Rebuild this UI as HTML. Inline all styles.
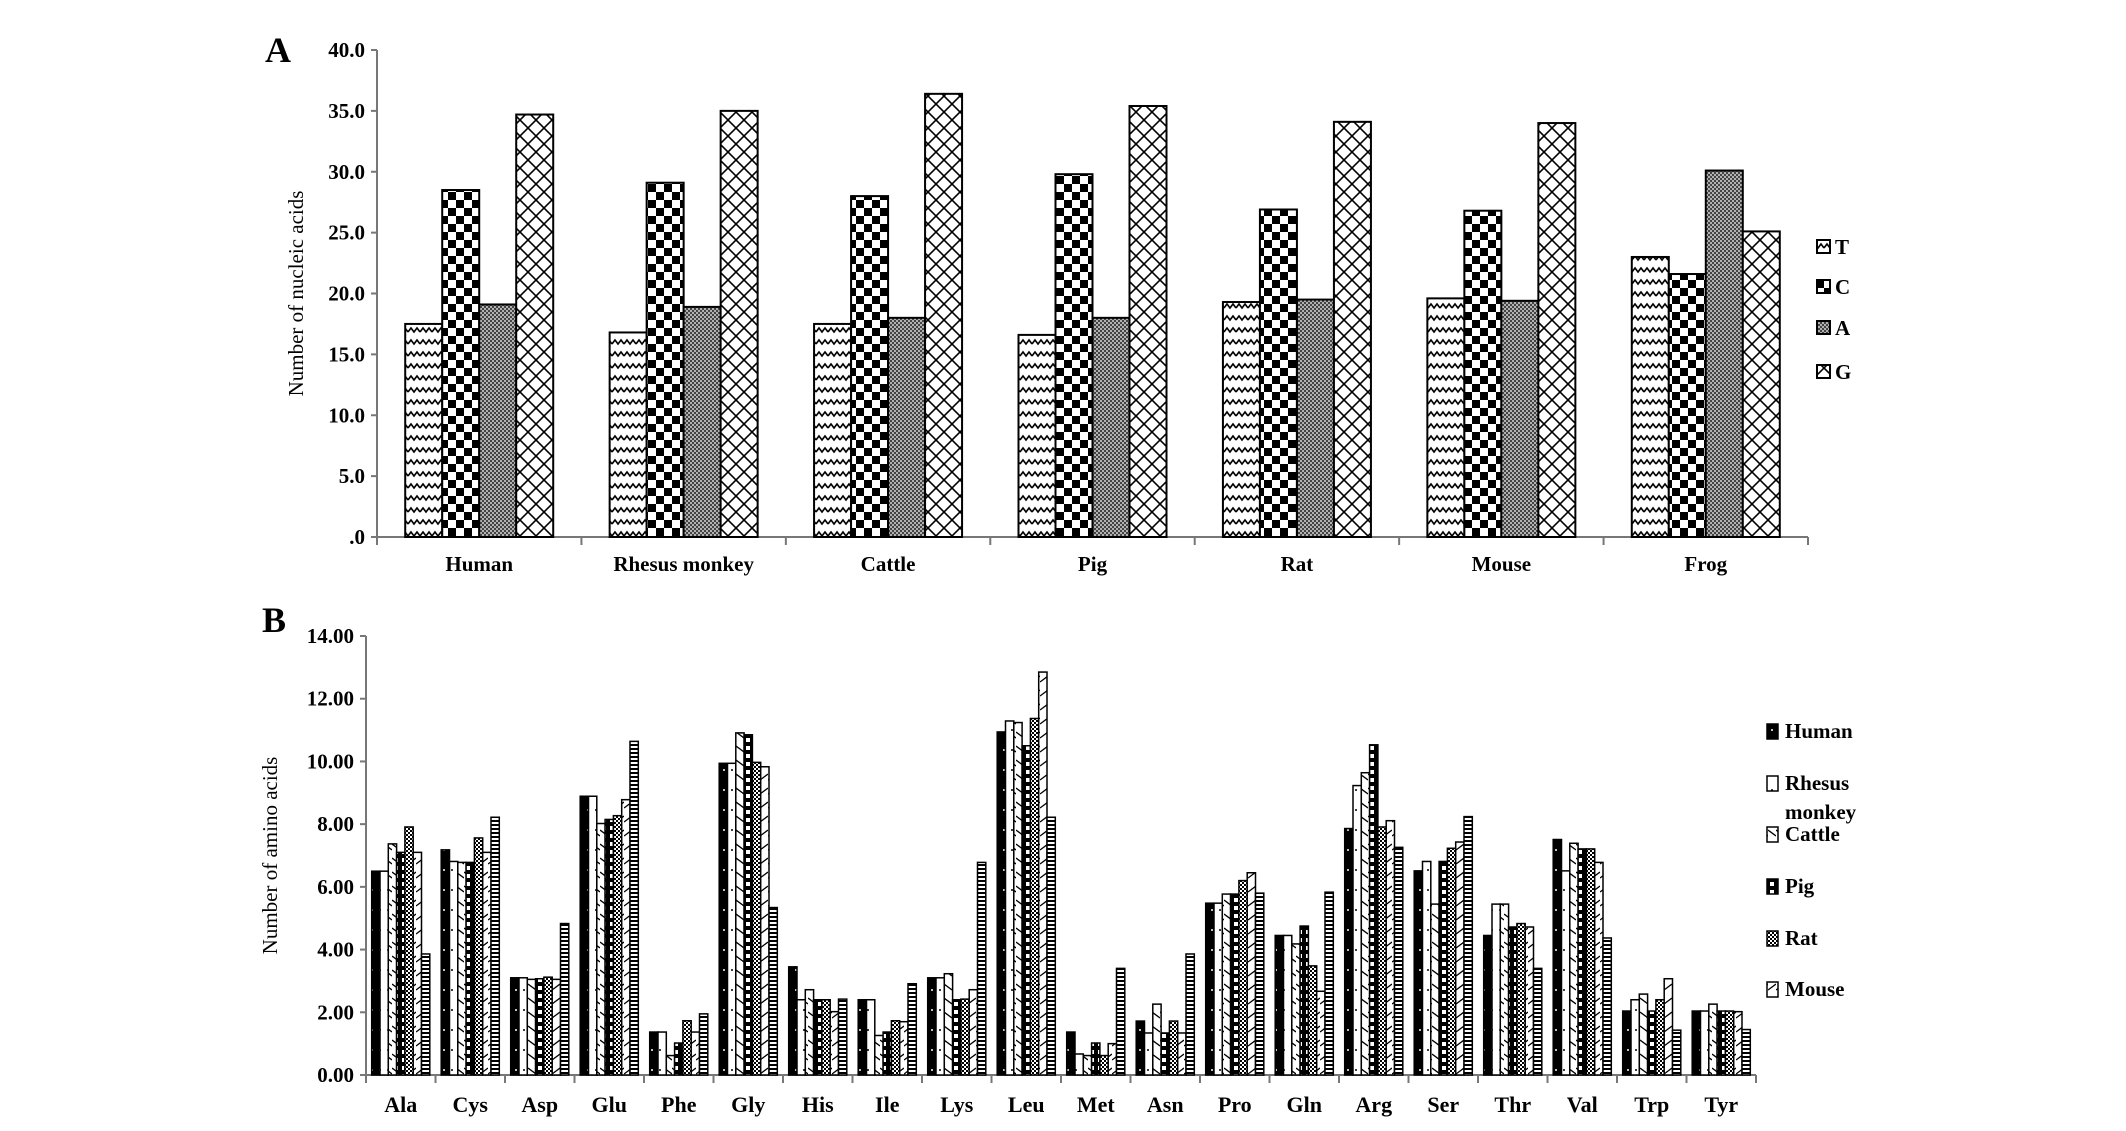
<!DOCTYPE html>
<html><head><meta charset="utf-8"><style>
html,body{margin:0;padding:0;background:#fff;}
svg{display:block;font-family:"Liberation Serif",serif;}
</style></head><body>
<svg id="chart" width="2126" height="1131" viewBox="0 0 2126 1131" xmlns="http://www.w3.org/2000/svg">
<defs>
<pattern id="pT" width="12" height="12" patternUnits="userSpaceOnUse"><rect width="12" height="12" fill="#fff"/><path d="M0 8 L3 4 L6 8 L9 4 L12 8" stroke="#000" stroke-width="1.6" fill="none"/></pattern>
<pattern id="pC" width="16" height="16" patternUnits="userSpaceOnUse"><rect width="16" height="16" fill="#fff"/><rect width="8" height="8" fill="#000"/><rect x="8" y="8" width="8" height="8" fill="#000"/></pattern>
<pattern id="pA" width="4" height="4" patternUnits="userSpaceOnUse"><rect width="4" height="4" fill="#444"/><circle cx="1" cy="1" r="0.9" fill="#fff"/><circle cx="3" cy="3" r="0.9" fill="#fff"/></pattern>
<pattern id="pG" width="16" height="16" patternUnits="userSpaceOnUse"><rect width="16" height="16" fill="#fff"/><path d="M0 0 L16 16 M16 0 L0 16" stroke="#000" stroke-width="1.6"/></pattern>
<pattern id="b0" width="8" height="20" patternUnits="userSpaceOnUse"><rect width="8" height="20" fill="#000"/><circle cx="4" cy="10" r="1" fill="#fff"/></pattern>
<pattern id="b1" width="8" height="20" patternUnits="userSpaceOnUse"><rect width="8" height="20" fill="#fff"/><circle cx="4" cy="10" r="1" fill="#000"/></pattern>
<pattern id="b2" width="8" height="14" patternUnits="userSpaceOnUse"><rect width="8" height="14" fill="#fff"/><path d="M0 4 L8 10" stroke="#000" stroke-width="1.3"/></pattern>
<pattern id="b3" width="8" height="8" patternUnits="userSpaceOnUse"><rect width="8" height="8" fill="#000"/><rect x="2" y="2" width="4" height="4" fill="#fff"/></pattern>
<pattern id="b4" width="4" height="4" patternUnits="userSpaceOnUse"><rect width="4" height="4" fill="#fff"/><rect width="2" height="2" fill="#000"/><rect x="2" y="2" width="2" height="2" fill="#000"/></pattern>
<pattern id="b5" width="8" height="14" patternUnits="userSpaceOnUse"><rect width="8" height="14" fill="#fff"/><path d="M0 10 L8 4" stroke="#000" stroke-width="1.3"/></pattern>
<pattern id="b6" width="8" height="4" patternUnits="userSpaceOnUse"><rect width="8" height="4" fill="#fff"/><rect width="8" height="2" fill="#000"/></pattern>
</defs>
<g id="gA"></g><g id="gB"></g>
</svg>
<script>
// Chart A data
const catsA = ["Human","Rhesus monkey","Cattle","Pig","Rat","Mouse","Frog"];
const seriesA = ["T","C","A","G"];
const valT = [17.5,16.8,17.5,16.6,19.3,19.6,23.0];
const valC = [28.5,29.1,28.0,29.8,26.9,26.8,21.6];
const valA = [19.1,18.9,18.0,18.0,19.5,19.4,30.1];
const valG = [34.7,35.0,36.4,35.4,34.1,34.0,25.1];
const ticksA = [0,5,10,15,20,25,30,35,40];
const tickLabelsA = [".0","5.0","10.0","15.0","20.0","25.0","30.0","35.0","40.0"];
// Chart B data
const catsB = ["Ala","Cys","Asp","Glu","Phe","Gly","His","Ile","Lys","Leu","Met","Asn","Pro","Gln","Arg","Ser","Thr","Val","Trp","Tyr"];
const seriesB = ["Human","Rhesus monkey","Cattle","Pig","Rat","Mouse","Frog"];
const bHuman = [6.5,7.18,3.1,8.89,1.37,9.94,3.45,2.4,3.1,10.94,1.37,1.72,5.48,4.45,7.86,6.51,4.45,7.51,2.04,2.04];
const bRhesus = [6.5,6.81,3.1,8.89,1.37,9.94,2.4,2.4,3.1,11.29,0.67,1.34,5.48,4.45,9.23,6.81,5.45,6.51,2.4,2.04];
const bCattle = [7.37,6.78,3.05,8.02,0.62,10.91,2.72,1.26,3.23,11.24,0.62,2.26,5.77,4.18,9.64,5.45,5.45,7.39,2.58,2.26];
const bPig = [7.1,6.78,3.07,8.15,1.02,10.85,2.4,1.37,2.4,10.5,1.02,1.34,5.77,4.75,10.53,6.81,4.72,7.21,2.04,2.04];
const bRat = [7.91,7.56,3.12,8.27,1.73,9.97,2.4,1.73,2.42,11.37,0.62,1.72,6.2,3.48,7.91,7.23,4.83,7.21,2.4,2.04];
const bMouse = [7.1,7.1,3.05,8.78,1.37,9.83,2.02,1.7,2.72,12.85,1.0,1.34,6.45,2.67,8.11,7.43,4.72,6.78,3.07,2.02];
const bFrog = [3.86,8.22,4.83,10.64,1.95,5.34,2.42,2.91,6.78,8.22,3.4,3.86,5.8,5.83,7.26,8.24,3.4,4.37,1.43,1.45];
const ticksB = [0,2,4,6,8,10,12,14];
const tickLabelsB = ["0.00","2.00","4.00","6.00","8.00","10.00","12.00","14.00"];

const NS="http://www.w3.org/2000/svg";
function mk(tag, attrs, parent, txt){const e=document.createElementNS(NS,tag);for(const k in attrs)e.setAttribute(k,attrs[k]);if(txt!==undefined)e.textContent=txt;parent.appendChild(e);return e;}

// ---- Chart A ----
(function(){
const g=document.getElementById('gA');
const x0=377, x1=1808, y0=537, yTop=50, yMax=40;
const yA=v=>y0-(v/yMax)*(y0-yTop);
const cw=(x1-x0)/catsA.length, bw=37;
const data=[valT,valC,valA,valG], pats=["pT","pC","pA","pG"];
const t=mk('text',{x:278,y:62,'font-size':36,'font-weight':'bold','text-anchor':'middle'},g,"A");


const ax=mk('line',{x1:x0,y1:yTop,x2:x0,y2:y0,stroke:'#777','stroke-width':2},g);


const xa=mk('line',{x1:x0,y1:y0,x2:x1,y2:y0,stroke:'#777','stroke-width':2},g);


ticksA.forEach((v,i)=>{
  mk('line',{x1:x0-6,y1:yA(v),x2:x0,y2:yA(v),stroke:'#777','stroke-width':2},g);
  const tl=mk('text',{x:x0-12,y:yA(v)+7,'font-size':21,'font-weight':'bold','text-anchor':'end'},g,tickLabelsA[i]);
  
  
});
for(let i=0;i<=catsA.length;i++) mk('line',{x1:x0+i*cw,y1:y0,x2:x0+i*cw,y2:y0+8,stroke:'#777','stroke-width':2},g);
catsA.forEach((c,i)=>{
  const gx=x0+i*cw+(cw-4*bw)/2;
  data.forEach((arr,s)=>{
    const r=mk('rect',{x:gx+s*bw,y:yA(arr[i]),width:bw,height:y0-yA(arr[i]),fill:'url(#'+pats[s]+')',stroke:'#000','stroke-width':2},g);
    
    
  });
  const l=mk('text',{x:x0+i*cw+cw/2,y:571,'font-size':21,'font-weight':'bold','text-anchor':'middle'},g,c);
  
  
});
const yt=mk('text',{x:0,y:0,'font-size':21,'text-anchor':'middle',transform:'translate(303,'+((y0+yTop)/2)+') rotate(-90)'},g,"Number of nucleic acids");


const ly=[247,287,328,372];
seriesA.forEach((s,i)=>{
  const b=mk('rect',{x:1817,y:ly[i]-7,width:13,height:13,fill:'url(#'+pats[i]+')',stroke:'#000','stroke-width':2},g);
  
  
  const lt=mk('text',{x:1835,y:ly[i]+7,'font-size':21,'font-weight':'bold'},g,s);
  
  
});
})();

// ---- Chart B ----
(function(){
const g=document.getElementById('gB');
const x0=366, x1=1756, y0=1075, yTop=636, yMax=14;
const yB=v=>y0-(v/yMax)*(y0-yTop);
const cw=(x1-x0)/catsB.length, bw=8.3;
const data=[bHuman,bRhesus,bCattle,bPig,bRat,bMouse,bFrog];
const t=mk('text',{x:274,y:632,'font-size':36,'font-weight':'bold','text-anchor':'middle'},g,"B");


const ax=mk('line',{x1:x0,y1:yTop,x2:x0,y2:y0,stroke:'#777','stroke-width':2},g);


const xa=mk('line',{x1:x0,y1:y0,x2:x1,y2:y0,stroke:'#777','stroke-width':2},g);


ticksB.forEach((v,i)=>{
  mk('line',{x1:x0-6,y1:yB(v),x2:x0,y2:yB(v),stroke:'#777','stroke-width':2},g);
  const tl=mk('text',{x:x0-12,y:yB(v)+7,'font-size':21,'font-weight':'bold','text-anchor':'end'},g,tickLabelsB[i]);
  
  
});
for(let i=0;i<=catsB.length;i++) mk('line',{x1:x0+i*cw,y1:y0,x2:x0+i*cw,y2:y0+8,stroke:'#777','stroke-width':2},g);
catsB.forEach((c,i)=>{
  const gx=x0+i*cw+(cw-7*bw)/2;
  data.forEach((arr,s)=>{
    const r=mk('rect',{x:gx+s*bw,y:yB(arr[i]),width:bw,height:y0-yB(arr[i]),fill:'url(#b'+s+')',stroke:'#000','stroke-width':1.5},g);
    
    
  });
  const l=mk('text',{x:x0+i*cw+cw/2,y:1112,'font-size':22,'font-weight':'bold','text-anchor':'middle'},g,c);
  
  
});
const yt=mk('text',{x:0,y:0,'font-size':21,'text-anchor':'middle',transform:'translate(277,'+((y0+yTop)/2)+') rotate(-90)'},g,"Number of amino acids");


const ly=[738,790,841,893,945,996];
const names=["Human","Rhesus","Cattle","Pig","Rat","Mouse"];
names.forEach((s,i)=>{
  const b=mk('rect',{x:1767,y:ly[i]-14,width:11,height:15,fill:'url(#b'+i+')',stroke:'#000','stroke-width':1.5},g);
  
  
  const lt=mk('text',{x:1785,y:ly[i],'font-size':21,'font-weight':'bold'},g,s);
  
  
});
const m=mk('text',{x:1785,y:819,'font-size':21,'font-weight':'bold'},g,"monkey");


})();
</script>
</body></html>
